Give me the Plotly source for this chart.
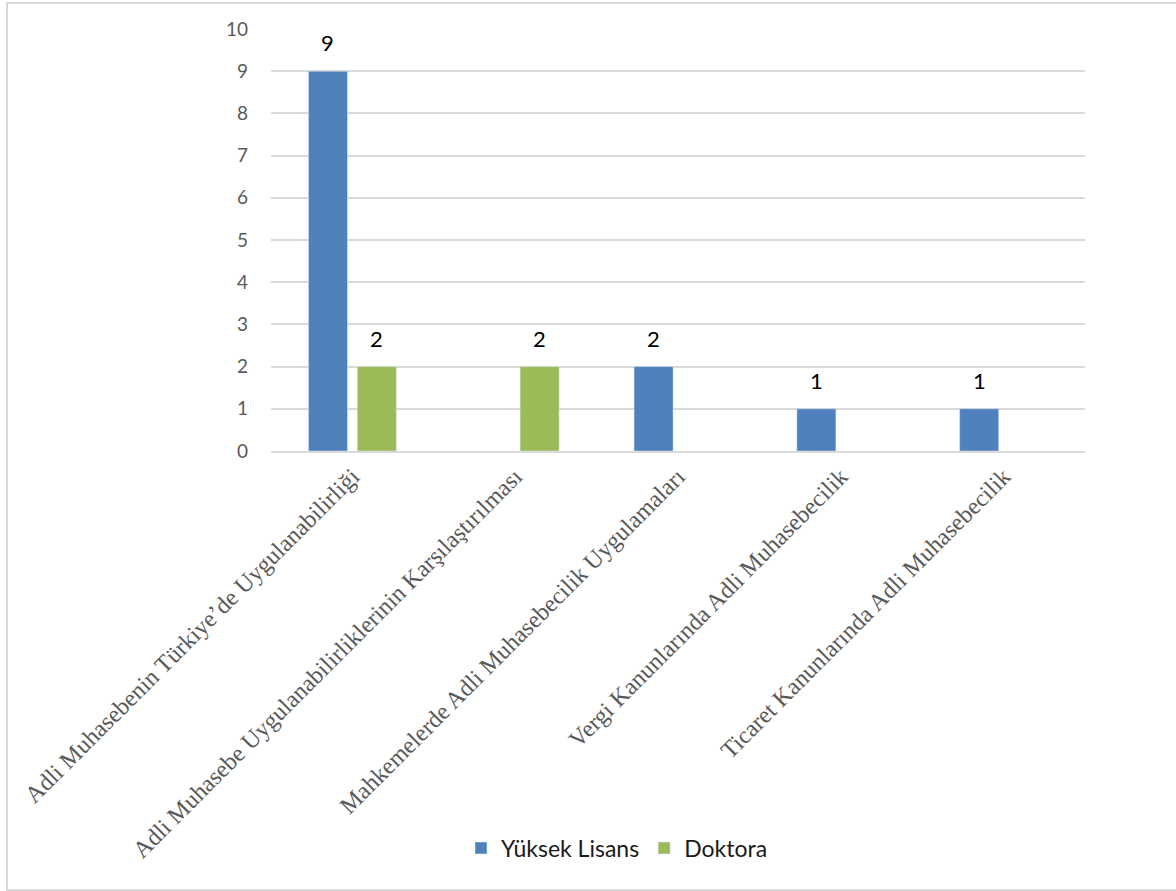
import plotly.graph_objects as go

categories = [
    "Adli Muhasebenin Türkiye’de Uygulanabilirliği",
    "Adli Muhasebe Uygulanabilirliklerinin Karşılaştırılması",
    "Mahkemelerde Adli Muhasebecilik Uygulamaları",
    "Vergi Kanunlarında Adli Muhasebecilik",
    "Ticaret Kanunlarında Adli Muhasebecilik",
]
yuksek_lisans = [9, None, 2, 1, 1]
doktora = [2, 2, None, None, None]
y_ticks = list(range(0, 11))

W, H = 1176, 891
L, R, T, B = 271, 91, 29, 440
pw, ph = W - L - R, H - T - B
BARGAP = 0.40


def px_x(x):
    return (x - L) / pw


def px_y(y):
    return (H - B - y) / ph


series = [
    ("Yüksek Lisans", yuksek_lisans, "#4f81bd"),
    ("Doktora", doktora, "#9bbb59"),
]

fig = go.Figure()
for name, vals, color in series:
    fig.add_bar(name=name, x=categories, y=vals, marker_color=color)

# value labels above each bar, shifted to the bar's slot inside its group
cat_w = pw / len(categories)
slot = cat_w * (1 - BARGAP) / len(series)
annotations = []
for i, (name, vals, color) in enumerate(series):
    shift = (i - (len(series) - 1) / 2) * slot
    for c, v in zip(categories, vals):
        if v is None:
            continue
        annotations.append(dict(
            x=c, y=v, xref="x", yref="y", text=str(v), showarrow=False,
            xanchor="center", yanchor="bottom", xshift=shift, yshift=13,
            font=dict(family="Lato", size=22, color="#000000"),
        ))

fig.update_layout(
    width=W, height=H,
    margin=dict(l=L, r=R, t=T, b=B, autoexpand=False),
    paper_bgcolor="white", plot_bgcolor="white",
    barmode="group", bargap=BARGAP, bargroupgap=0.2,
    showlegend=True,
    legend=dict(
        orientation="h", x=px_x(617), y=px_y(848), xanchor="center", yanchor="middle",
        font=dict(family="Lato", size=23, color="#1a1a1a"),
        itemwidth=30, tracegroupgap=0,
    ),
    annotations=annotations,
    shapes=[dict(
        type="rect", xref="paper", yref="paper",
        x0=px_x(7), x1=px_x(1185), y0=px_y(890), y1=px_y(3),
        line=dict(color="#d9d9d9", width=2), fillcolor="rgba(0,0,0,0)", layer="below",
    )],
)
fig.update_yaxes(
    range=[0, 10], tickvals=y_ticks, showgrid=True, gridcolor="#d9d9d9", gridwidth=2,
    zeroline=False, showline=False, ticks="", ticklabelstandoff=22,
    tickfont=dict(family="Lato", size=19, color="#595959"),
)
fig.update_xaxes(
    showline=True, linecolor="#d9d9d9", linewidth=2, tickangle=-45, ticks="",
    tickfont=dict(family="Liberation Serif", size=24, color="#595959"),
)

fig.write_html("out.html")
